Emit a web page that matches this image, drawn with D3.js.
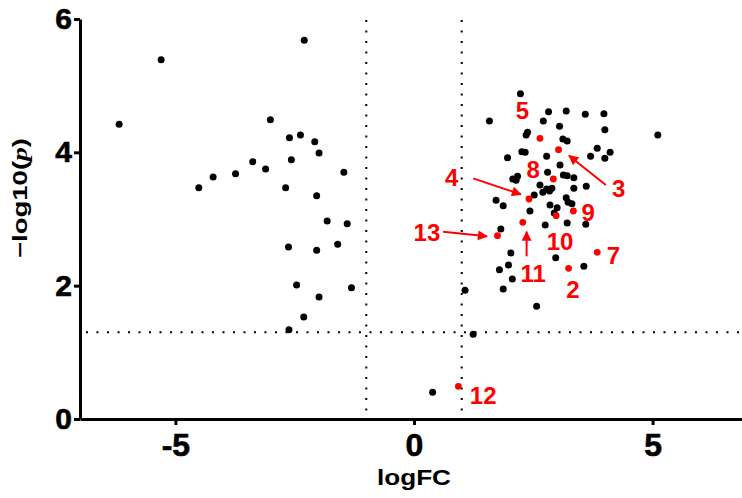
<!DOCTYPE html>
<meta charset="utf-8">

<script src="https://d3js.org/d3.v7.min.js"></script>

<style>
  body {
    margin: 0;
    background: #fff;
    font-family: "Liberation Sans", Arial, sans-serif;
  }

  svg {
    display: block;
  }

  .axis path,
  .axis line {
    stroke: #000;
    stroke-width: 3px;
    fill: none;
  }

  .axis text {
    font-family: "Liberation Sans", Arial, sans-serif;
    font-weight: bold;
    fill: #000;
    stroke: #000;
    stroke-width: 0.6px;
  }

  .cutoff {
    stroke: #000;
    stroke-width: 2px;
    stroke-dasharray: 2, 8.5;
  }

  .label {
    font-weight: bold;
    font-size: 24px;
    fill: red;
  }
</style>

<div id="chart"></div>
<script>
  // thresholds
  var fcCut = 1;
  var pCut = -Math.log10(0.05);

  // black points [logFC, -log10(p)]
  var downGenes = [
    [-5.30, 5.39], [-6.18, 4.42], [-2.30, 5.68], [-3.01, 4.49], [-2.61, 4.22],
    [-2.38, 4.26], [-2.08, 4.16], [-1.99, 3.99], [-3.38, 3.86], [-3.11, 3.75],
    [-2.57, 3.89], [-3.74, 3.68], [-4.21, 3.63], [-4.51, 3.47], [-2.69, 3.47],
    [-1.47, 3.70], [-2.04, 3.35], [-1.82, 2.97], [-1.40, 2.93], [-2.63, 2.58],
    [-2.04, 2.53], [-1.60, 2.62], [-2.46, 2.01], [-1.31, 1.97], [-1.99, 1.83],
    [-2.31, 1.53], [-2.62, 1.34]
  ];

  var midGenes = [
    [0.39, 0.40], [1.07, 1.93], [1.24, 1.27]
  ];

  var upGenes = [
    [2.23, 4.88], [1.58, 4.47], [2.82, 4.61], [3.19, 4.62], [3.59, 4.57],
    [3.98, 4.58], [2.71, 4.47], [3.05, 4.39], [4.00, 4.34], [2.38, 4.30],
    [2.35, 4.26], [3.12, 4.20], [3.21, 4.17], [2.26, 4.01], [2.33, 4.00],
    [1.96, 3.92], [2.78, 3.94], [3.84, 4.06], [4.11, 4.00], [4.00, 3.91],
    [3.70, 3.94], [3.06, 3.81], [5.11, 4.26], [2.80, 3.70], [3.13, 3.66],
    [3.21, 3.65], [3.35, 3.62], [2.17, 3.64], [2.07, 3.60], [2.14, 3.58],
    [2.64, 3.51], [2.89, 3.46], [2.84, 3.42], [2.78, 3.45], [2.70, 3.40],
    [3.35, 3.46], [3.61, 3.49], [2.52, 3.36], [1.72, 3.28], [1.87, 3.20],
    [3.19, 3.32], [3.23, 3.25], [3.31, 3.23], [2.85, 3.21], [3.00, 3.17],
    [2.94, 3.09], [2.43, 3.12], [2.75, 2.91], [3.21, 2.94], [3.60, 2.92],
    [1.82, 2.85], [2.03, 2.49], [1.98, 2.31], [1.79, 2.24], [2.06, 2.10],
    [1.87, 1.95], [2.57, 1.69], [2.97, 2.42], [3.56, 2.29]
  ];

  // highlighted genes
  var hiIds = ["2", "3", "4", "5", "7", "8", "9", "10", "11", "12", "13"];
  var hiFC  = [3.24, 3.03, 2.41, 2.64, 3.84, 2.92, 3.34, 2.98, 2.28, 0.93, 1.75];
  var hiP   = [2.26, 4.04, 3.30, 4.21, 2.50, 3.60, 3.12, 3.05, 2.95, 0.49, 2.75];

  // where each number is written (data units)
  var labelFC = [3.33, 4.29, 0.79, 2.27, 4.18, 2.50, 3.65, 3.06, 2.50, 1.45, 0.27];
  var labelP  = [1.95, 3.46, 3.63, 4.63, 2.46, 3.75, 3.10, 2.66, 2.19, 0.35, 2.80];

  // arrows from a label to its point (data units)
  var arrows = [
    { id: "3",  from: [4.02, 3.51], to: [3.25, 3.95] },
    { id: "4",  from: [1.24, 3.61], to: [2.24, 3.37] },
    { id: "11", from: [2.36, 2.44], to: [2.36, 2.81] },
    { id: "13", from: [0.61, 2.81], to: [1.53, 2.74] }
  ];

  var width = 742,
    height = 498;

  var svg = d3.select("#chart").append("svg")
    .attr("width", width)
    .attr("height", height);

  var x = d3.scaleLinear().domain([-7, 7]).range([80, 748]);
  var y = d3.scaleLinear().domain([0, 6]).range([419, 19]);

  // dotted cut-off lines
  svg.append("line")
    .attr("class", "cutoff")
    .attr("x1", x(-7) + 6).attr("x2", width)
    .attr("y1", y(pCut)).attr("y2", y(pCut));

  [-fcCut, fcCut].forEach(function (v) {
    svg.append("line")
      .attr("class", "cutoff")
      .attr("x1", x(v)).attr("x2", x(v))
      .attr("y1", y(6) + 1).attr("y2", y(0));
  });

  // Axes
  var xAxis = svg.append("g")
    .attr("class", "axis")
    .attr("transform", "translate(0," + y(0) + ")")
    .call(d3.axisBottom(x).tickValues([-5, 0, 5]).tickSize(6).tickSizeOuter(0).tickPadding(8)
      .tickFormat(function (d) { return d < 0 ? "-" + Math.abs(d) : d; }));
  xAxis.selectAll("text").style("font-size", "32px");

  var yAxis = svg.append("g")
    .attr("class", "axis")
    .attr("transform", "translate(" + x(-7) + ",0)")
    .call(d3.axisLeft(y).tickValues([0, 2, 4, 6]).tickSize(6).tickSizeOuter(0).tickPadding(2)
      .tickFormat(d3.format("d")));
  yAxis.selectAll("text").style("font-size", "30px");

  // axis titles
  svg.append("text")
    .attr("x", x(0))
    .attr("y", 485)
    .attr("text-anchor", "middle")
    .attr("textLength", 74)
    .attr("lengthAdjust", "spacingAndGlyphs")
    .style("font-weight", "bold")
    .style("font-size", "22px")
    .text("logFC");

  var yt = svg.append("text")
    .attr("transform", "translate(27,198)rotate(-90)")
    .attr("text-anchor", "middle")
    .attr("textLength", 120)
    .attr("lengthAdjust", "spacingAndGlyphs")
    .style("font-weight", "bold")
    .style("font-size", "20px");
  yt.append("tspan").text("\u2212log10(");
  yt.append("tspan").style("font-family", "'Liberation Serif', serif").style("font-style", "italic").text("p");
  yt.append("tspan").text(")");

  // points
  var allBlack = downGenes.concat(midGenes, upGenes);
  svg.append("g").selectAll("circle")
    .data(allBlack)
    .enter().append("circle")
    .attr("cx", function (d) { return x(d[0]); })
    .attr("cy", function (d) { return y(d[1]); })
    .attr("r", 3.5)
    .attr("fill", "#000");

  var hi = hiIds.map(function (id, i) {
    return { id: id, fc: hiFC[i], p: hiP[i], lx: labelFC[i], ly: labelP[i] };
  });

  svg.append("g").selectAll("circle")
    .data(hi)
    .enter().append("circle")
    .attr("cx", function (d) { return x(d.fc); })
    .attr("cy", function (d) { return y(d.p); })
    .attr("r", 3.4)
    .attr("fill", "red");

  svg.append("g").selectAll("text")
    .data(hi)
    .enter().append("text")
    .attr("class", "label")
    .attr("x", function (d) { return x(d.lx); })
    .attr("y", function (d) { return y(d.ly); })
    .attr("text-anchor", "middle")
    .attr("dy", "0.36em")
    .text(function (d) { return d.id; });

  // arrows
  svg.append("defs").append("marker")
    .attr("id", "head")
    .attr("markerUnits", "userSpaceOnUse")
    .attr("viewBox", "0 0 10 10")
    .attr("refX", 9).attr("refY", 5)
    .attr("markerWidth", 12).attr("markerHeight", 10)
    .attr("orient", "auto")
    .append("path")
    .attr("d", "M0,0L10,5L0,10z")
    .attr("fill", "red");

  svg.append("g").selectAll("line")
    .data(arrows)
    .enter().append("line")
    .attr("x1", function (d) { return x(d.from[0]); })
    .attr("y1", function (d) { return y(d.from[1]); })
    .attr("x2", function (d) { return x(d.to[0]); })
    .attr("y2", function (d) { return y(d.to[1]); })
    .attr("stroke", "red")
    .attr("stroke-width", 2)
    .attr("marker-end", "url(#head)");
</script>
